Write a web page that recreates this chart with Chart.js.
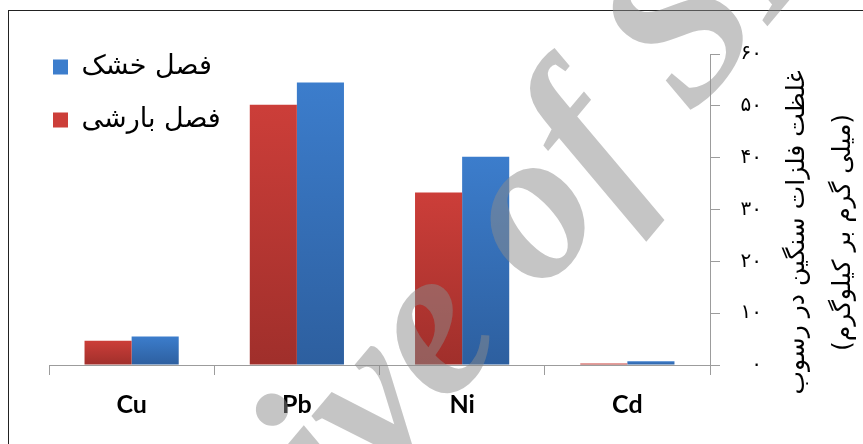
<!DOCTYPE html>
<html>
<head>
<meta charset="utf-8">
<script src="https://cdn.jsdelivr.net/npm/chart.js@4/dist/chart.umd.min.js"></script>
<style>
html,body{margin:0;padding:0;background:#fff;}
#wrap{width:863px;height:444px;position:relative;}
</style>
</head>
<body>
<div id="wrap"><canvas id="c" width="863" height="444"></canvas></div>
<script>
const categories = ['Cu', 'Pb', 'Ni', 'Cd'];
const rainySeason = [4.7, 50.2, 33.3, 0.3];   // فصل بارشی
const drySeason = [5.5, 54.5, 40.2, 0.7];     // فصل خشک
const seriesNames = ['فصل بارشی', 'فصل خشک'];
const yTickLabels = ['۰', '۱۰', '۲۰', '۳۰', '۴۰', '۵۰', '۶۰'];
const yTitleLines = ['غلظت فلزات سنگین در رسوب', '(میلی گرم بر کیلوگرم)'];
const watermarkText = 'Archive of SID';

function barGradient(top, bottom) {
  return function (ctx) {
    const chart = ctx.chart;
    const y = chart.scales && chart.scales.y;
    if (!y || ctx.raw === undefined) return top;
    const yTop = y.getPixelForValue(ctx.raw);
    const yBot = y.getPixelForValue(0);
    if (!isFinite(yTop) || Math.abs(yBot - yTop) < 1) return top;
    const g = chart.ctx.createLinearGradient(0, yTop, 0, yBot);
    g.addColorStop(0, top);
    g.addColorStop(1, bottom);
    return g;
  };
}

const framePlugin = {
  id: 'frame',
  beforeDraw(chart) {
    const c = chart.ctx;
    c.save();
    c.fillStyle = '#fff';
    c.fillRect(0, 0, chart.width, chart.height);
    c.strokeStyle = '#222';
    c.lineWidth = 1;
    c.strokeRect(8.5, 10.5, 900, 500);
    c.restore();
  }
};

const legendShift = {
  id: 'legendShift',
  afterLayout(chart) {
    if (chart.legend) {
      chart.legend.top = 27.5;
      chart.legend.left = 27;
    }
  }
};

const yTitlePlugin = {
  id: 'yTitle',
  afterDraw(chart) {
    const c = chart.ctx;
    const area = chart.chartArea;
    const cy = area.top + (area.bottom - area.top) / 2 + 23;
    const xs = [797, 843];
    c.save();
    c.fillStyle = '#000';
    c.font = '25px "DejaVu Sans"';
    c.textAlign = 'center';
    c.textBaseline = 'middle';
    yTitleLines.forEach((t, i) => {
      c.save();
      c.translate(xs[i], cy);
      c.rotate(-Math.PI / 2);
      c.fillText(t, 0, 0);
      c.restore();
    });
    c.restore();
  }
};

const watermarkPlugin = {
  id: 'watermark',
  afterDraw(chart) {
    const c = chart.ctx;
    c.save();
    c.font = 'italic bold 215px "Liberation Serif"';
    c.fillStyle = 'rgba(140,140,140,0.5)';
    c.textBaseline = 'alphabetic';
    const pre = c.measureText('Archi').width;
    c.translate(385, 482);
    c.rotate(-50 * Math.PI / 180);
    c.fillText(watermarkText, -pre, 0);
    c.restore();
  }
};

new Chart(document.getElementById('c'), {
  type: 'bar',
  data: {
    labels: categories,
    datasets: [
      {
        label: seriesNames[0],
        data: rainySeason,
        backgroundColor: barGradient('#cc3e39', '#a02f2b'),
        borderWidth: 0,
        categoryPercentage: 0.57,
        barPercentage: 1.0
      },
      {
        label: seriesNames[1],
        data: drySeason,
        backgroundColor: barGradient('#3c7dcc', '#2d5f9f'),
        borderWidth: 0,
        categoryPercentage: 0.57,
        barPercentage: 1.0
      }
    ]
  },
  options: {
    responsive: false,
    animation: false,
    devicePixelRatio: 1,
    layout: { padding: { left: 49, top: 54, right: 101, bottom: 0 } },
    plugins: {
      title: { display: false },
      tooltip: { enabled: false },
      legend: {
        position: 'chartArea',
        align: 'start',
        reverse: true,
        labels: {
          boxWidth: 15,
          boxHeight: 15,
          padding: 26,
          color: '#000',
          font: { family: '"DejaVu Sans"', size: 27 },
          generateLabels(chart) {
            const cols = ['#cc3e39', '#3c7dcc'];
            return chart.data.datasets.map((ds, i) => ({
              text: ds.label,
              fillStyle: cols[i],
              strokeStyle: cols[i],
              lineWidth: 0,
              hidden: false,
              datasetIndex: i
            }));
          }
        }
      }
    },
    scales: {
      x: {
        afterFit(s) { s.height = 79; },
        grid: {
          display: true,
          drawOnChartArea: false,
          drawTicks: true,
          tickLength: 10,
          color: '#9c9c9c',
          offset: true
        },
        border: { display: true, color: '#9c9c9c', width: 1 },
        ticks: {
          color: '#000',
          padding: 15,
          font: { family: 'Lato', weight: 'bold', size: 25 }
        }
      },
      y: {
        position: 'right',
        min: 0,
        max: 60,
        afterFit(s) { s.width = 52; },
        grid: {
          display: true,
          drawOnChartArea: false,
          drawTicks: true,
          tickLength: 10,
          color: '#9c9c9c'
        },
        border: { display: true, color: '#9c9c9c', width: 1 },
        ticks: {
          stepSize: 10,
          color: '#000',
          padding: 21,
          crossAlign: 'far',
          font: { family: '"DejaVu Sans"', size: 20 },
          callback(v, i) { return yTickLabels[i]; }
        }
      }
    }
  },
  plugins: [framePlugin, legendShift, yTitlePlugin, watermarkPlugin]
});
</script>
</body>
</html>
